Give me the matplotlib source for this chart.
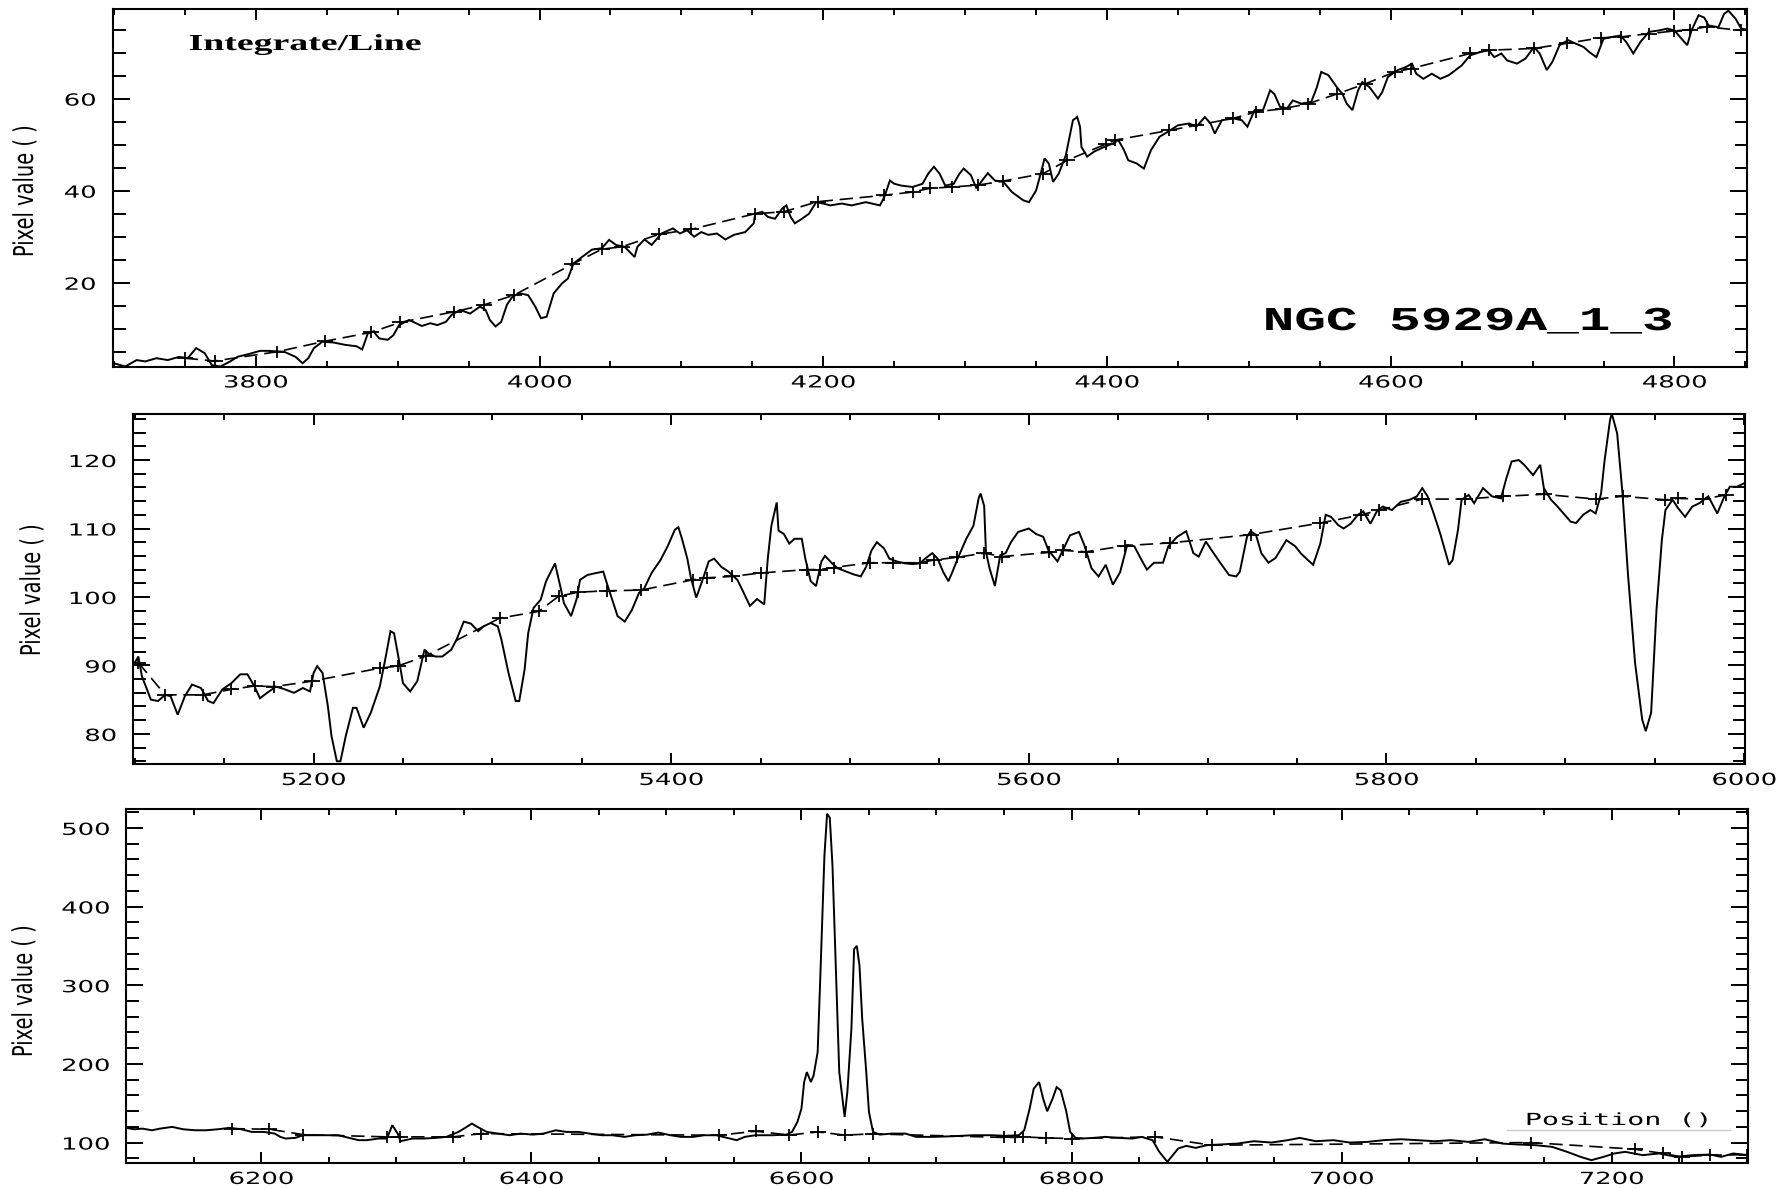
import numpy as np
import matplotlib
matplotlib.use('Agg')
import matplotlib.pyplot as plt
from matplotlib.path import Path
from matplotlib.lines import Line2D
from matplotlib.ticker import MultipleLocator
from matplotlib.transforms import Affine2D
from matplotlib.patheffects import AbstractPathEffect

W, H = 1782, 1190

# ---- blue part of the spectrum ----
wave_1 = [3700, 3708, 3716, 3722, 3730, 3738, 3746, 3752, 3758, 3764, 3769, 3775, 3782, 3787, 3795,
          3803, 3809, 3820, 3828, 3833, 3837, 3841, 3847, 3855, 3863, 3871, 3875, 3879, 3883, 3887,
          3893, 3897, 3901, 3908, 3913, 3917, 3923, 3928, 3934, 3938, 3944, 3951, 3958, 3962, 3965,
          3969, 3973, 3977, 3981, 3986, 3992, 3997, 4001, 4005, 4010, 4016, 4020, 4024, 4030, 4037,
          4044, 4049, 4054, 4060, 4067, 4069, 4074, 4079, 4086, 4094, 4099, 4104, 4109, 4114, 4119,
          4125, 4131, 4137, 4145, 4151, 4152, 4157, 4161, 4166, 4171, 4174, 4177, 4180, 4185, 4190,
          4195, 4200, 4205, 4213, 4220, 4230, 4240, 4243, 4247, 4250, 4255, 4263, 4270, 4274, 4278,
          4282, 4286, 4292, 4296, 4299, 4304, 4308, 4312, 4316, 4321, 4327, 4333, 4341, 4345, 4350,
          4353, 4356, 4359, 4362, 4366, 4371, 4376, 4379, 4381, 4382, 4386, 4391, 4398, 4404, 4408,
          4412, 4415, 4421, 4426, 4431, 4437, 4443, 4450, 4458, 4463, 4469, 4473, 4476, 4481, 4489,
          4495, 4499, 4504, 4510, 4515, 4518, 4522, 4527, 4531, 4537, 4544, 4548, 4551, 4556, 4562,
          4566, 4569, 4573, 4577, 4580, 4585, 4591, 4594, 4598, 4605, 4611, 4615, 4618, 4623, 4629,
          4635, 4641, 4650, 4656, 4663, 4669, 4673, 4678, 4682, 4689, 4695, 4701, 4705, 4710, 4714,
          4719, 4725, 4730, 4736, 4740, 4745, 4750, 4756, 4762, 4766, 4771, 4776, 4782, 4789, 4795,
          4800, 4805, 4809, 4812, 4817, 4821, 4824, 4831, 4835, 4838, 4843, 4847, 4851]
flux_1 = [2.5, 1.8, 3.2, 2.9, 3.6, 3.2, 3.9, 3.6, 5.8, 4.7, 2.1, 1.8, 2.9, 3.9, 4.5,
          5.2, 5.2, 5.0, 3.9, 2.5, 3.6, 5.8, 7.2, 7.0, 6.5, 6.2, 5.5, 9.0, 9.4, 7.9,
          7.6, 8.6, 10.8, 11.9, 11.2, 10.6, 11.2, 10.8, 11.5, 13.0, 14.1, 13.3, 14.8, 14.1, 11.9,
          10.5, 11.5, 15.2, 17.0, 17.7, 17.3, 14.8, 12.3, 12.6, 17.7, 19.9, 20.9, 24.2, 25.6, 27.2,
          27.5, 29.3, 28.2, 27.8, 25.6, 27.8, 29.4, 28.2, 30.7, 31.8, 30.7, 31.4, 30.0, 31.0, 30.4,
          30.7, 29.4, 30.4, 31.0, 32.9, 35.0, 35.4, 34.3, 33.9, 36.1, 36.8, 34.3, 32.9, 33.9, 35.0,
          37.5, 37.2, 36.8, 37.2, 36.8, 37.5, 36.8, 38.6, 42.2, 41.5, 41.1, 40.8, 41.5, 43.7, 45.2,
          43.7, 41.1, 41.5, 43.7, 44.8, 43.4, 40.5, 42.2, 43.8, 42.2, 41.9, 39.7, 37.9, 37.5, 40.0,
          43.4, 47.0, 45.9, 41.9, 43.7, 47.7, 55.3, 56.0, 53.9, 49.5, 47.4, 48.5, 49.5, 50.2, 51.0,
          48.8, 46.6, 45.9, 44.8, 48.8, 51.7, 52.8, 54.2, 54.6, 53.9, 56.0, 54.6, 52.4, 55.3, 55.7,
          55.3, 53.9, 57.5, 57.5, 61.8, 61.0, 58.2, 57.9, 59.6, 58.9, 59.3, 62.5, 65.8, 65.1, 62.5,
          61.0, 58.9, 57.5, 61.8, 63.6, 62.5, 60.0, 61.4, 64.7, 66.2, 66.9, 67.6, 65.4, 64.3, 65.4,
          64.3, 65.1, 67.2, 69.4, 70.1, 70.5, 69.0, 69.8, 68.3, 67.6, 68.7, 71.2, 69.8, 66.2, 68.0,
          71.6, 72.7, 72.0, 71.2, 70.1, 69.0, 73.0, 73.4, 73.7, 72.3, 69.8, 72.3, 74.5, 74.8, 75.2,
          74.8, 73.0, 71.6, 74.8, 78.1, 77.6, 75.9, 75.5, 78.4, 79.1, 77.4, 75.2, 75.0]
cont_wave_1 = [3750, 3771, 3815, 3849, 3881, 3902, 3940, 3961, 3982, 4023, 4044, 4058, 4084, 4107,
               4152, 4172, 4196, 4243, 4263, 4275, 4291, 4309, 4327, 4355, 4372, 4399, 4406, 4444,
               4463, 4489, 4505, 4524, 4542, 4562, 4582, 4603, 4614, 4656, 4669, 4701, 4724, 4748,
               4762, 4782, 4800, 4811, 4823, 4847]
cont_flux_1 = [3.6, 3.0, 5.0, 7.3, 9.2, 11.4, 13.7, 15.2, 17.3, 24.0, 27.3, 27.8, 30.5, 31.6,
               35.0, 35.4, 37.6, 39.0, 39.7, 40.5, 40.8, 41.2, 42.1, 43.7, 46.6, 50.1, 51.0, 53.1,
               54.2, 55.7, 57.1, 57.8, 58.9, 61.0, 63.2, 65.8, 66.5, 69.8, 70.5, 70.9, 72.0, 73.2,
               73.4, 74.1, 74.7, 75.0, 75.6, 74.8]

# ---- green / yellow part ----
wave_2 = [5100, 5102, 5104, 5109, 5113, 5117, 5120, 5124, 5128, 5132, 5137, 5141, 5144, 5149, 5154,
          5159, 5163, 5167, 5170, 5174, 5179, 5184, 5189, 5194, 5198, 5200, 5202, 5205, 5208, 5210,
          5213, 5215, 5218, 5222, 5224, 5228, 5232, 5237, 5240, 5243, 5245, 5248, 5250, 5254, 5258,
          5262, 5264, 5268, 5272, 5277, 5280, 5284, 5288, 5292, 5295, 5299, 5303, 5305, 5309, 5313,
          5315, 5318, 5320, 5323, 5327, 5330, 5335, 5338, 5340, 5344, 5347, 5349, 5353, 5358, 5362,
          5364, 5367, 5370, 5374, 5378, 5382, 5385, 5389, 5394, 5398, 5402, 5404, 5406, 5409, 5411,
          5414, 5417, 5421, 5424, 5428, 5432, 5437, 5440, 5444, 5448, 5452, 5454, 5456, 5459, 5460,
          5463, 5466, 5469, 5473, 5475, 5478, 5481, 5484, 5486, 5490, 5493, 5498, 5502, 5506, 5509,
          5512, 5515, 5519, 5522, 5526, 5531, 5535, 5539, 5542, 5546, 5549, 5552, 5555, 5557, 5561,
          5565, 5569, 5572, 5573, 5575, 5576, 5578, 5581, 5584, 5587, 5590, 5594, 5600, 5604, 5608,
          5611, 5616, 5619, 5623, 5628, 5631, 5635, 5639, 5643, 5647, 5651, 5655, 5659, 5662, 5666,
          5670, 5675, 5678, 5683, 5688, 5692, 5695, 5699, 5702, 5707, 5712, 5716, 5718, 5722, 5724,
          5727, 5730, 5734, 5738, 5744, 5749, 5752, 5756, 5759, 5763, 5766, 5769, 5773, 5776, 5780,
          5784, 5787, 5791, 5795, 5798, 5803, 5808, 5813, 5817, 5820, 5823, 5826, 5830, 5835, 5837,
          5840, 5842, 5846, 5849, 5854, 5859, 5864, 5867, 5870, 5874, 5877, 5882, 5886, 5888, 5892,
          5895, 5899, 5903, 5906, 5910, 5914, 5917, 5920, 5922, 5925, 5926, 5929, 5932, 5935, 5939,
          5943, 5945, 5948, 5951, 5954, 5956, 5960, 5963, 5967, 5971, 5975, 5980, 5985, 5989, 5992,
          5996, 6000]
flux_2 = [90.4, 91.3, 88.4, 85.0, 84.8, 85.7, 85.5, 82.8, 85.5, 87.2, 86.7, 84.8, 84.5, 86.5, 87.4,
          88.7, 88.7, 86.9, 85.2, 86.0, 86.9, 86.5, 86.0, 86.7, 86.2, 88.9, 89.9, 88.9, 84.0, 79.7,
          76.0, 76.0, 79.7, 83.8, 83.8, 80.9, 83.1, 86.9, 90.8, 95.0, 94.7, 90.4, 87.4, 86.2, 87.7,
          92.3, 91.8, 91.3, 91.3, 92.3, 93.8, 96.4, 96.1, 95.0, 95.7, 96.2, 95.7, 93.8, 88.9, 84.8,
          84.8, 89.4, 94.7, 98.4, 99.6, 102.3, 104.9, 101.5, 99.1, 97.2, 99.6, 102.5, 103.2, 103.5, 103.7,
          102.0, 99.6, 97.2, 96.4, 98.1, 100.6, 101.3, 103.5, 105.4, 107.4, 109.8, 110.2, 108.5, 105.6, 102.8,
          99.9, 102.1, 105.2, 105.6, 104.4, 103.7, 102.5, 100.9, 98.7, 99.7, 98.9, 105.6, 110.4, 113.8, 109.7,
          109.2, 107.8, 108.5, 108.5, 105.6, 102.3, 101.6, 105.2, 106.0, 104.9, 104.2, 103.7, 103.3, 103.0, 104.4,
          106.8, 108.0, 107.1, 105.6, 105.2, 104.9, 104.8, 104.9, 105.6, 106.4, 105.6, 103.7, 102.3, 103.5, 106.1,
          108.5, 110.4, 114.5, 115.1, 113.3, 106.6, 104.2, 101.6, 106.1, 106.4, 108.0, 109.5, 110.0, 109.2, 108.8,
          106.8, 105.2, 106.8, 109.0, 109.5, 107.6, 104.2, 103.0, 104.7, 101.8, 103.6, 107.6, 107.4, 105.9, 104.0,
          105.0, 105.0, 107.4, 108.8, 109.6, 106.4, 105.9, 108.1, 106.9, 105.0, 103.2, 103.0, 103.7, 108.8, 109.6,
          109.1, 106.4, 105.0, 105.7, 108.3, 107.4, 106.4, 105.4, 104.7, 107.8, 112.0, 111.7, 110.5, 110.0, 110.7,
          112.0, 112.5, 110.7, 112.7, 113.2, 112.7, 113.9, 114.2, 114.7, 115.9, 114.7, 112.5, 109.3, 104.7, 105.4,
          109.8, 114.2, 114.9, 113.7, 115.9, 114.7, 114.4, 117.3, 119.8, 120.0, 119.3, 117.8, 119.3, 115.9, 114.2,
          113.4, 112.2, 111.0, 110.8, 112.0, 112.7, 112.2, 115.1, 120.0, 125.8, 126.8, 123.9, 115.1, 103.5, 90.4,
          82.1, 80.4, 83.1, 98.1, 108.3, 112.7, 114.2, 113.0, 111.7, 113.2, 113.7, 114.7, 112.2, 114.7, 116.1,
          116.1, 116.6]
cont_wave_2 = [5102, 5117, 5138, 5154, 5167, 5178, 5199, 5237, 5247, 5263, 5304, 5326, 5337, 5348,
               5364, 5383, 5412, 5420, 5434, 5450, 5476, 5483, 5491, 5511, 5524, 5539, 5547, 5560,
               5575, 5585, 5611, 5619, 5632, 5654, 5679, 5724, 5763, 5786, 5796, 5820, 5844, 5865,
               5888, 5917, 5932, 5956, 5963, 5977, 5990]
cont_flux_2 = [90.4, 85.7, 85.7, 86.5, 87.0, 86.9, 87.7, 89.6, 89.9, 91.4, 96.9, 97.9, 100.1, 100.7,
               100.9, 101.0, 102.5, 102.8, 103.0, 103.5, 104.0, 104.0, 104.3, 105.0, 105.0, 105.0, 105.4, 105.8,
               106.4, 105.9, 106.5, 106.8, 106.6, 107.5, 107.9, 109.1, 110.8, 112.0, 112.7, 114.3, 114.3, 114.7,
               115.0, 114.3, 114.7, 114.2, 114.4, 114.3, 114.9]

# ---- red part, H-alpha / [NII] / [SII] ----
wave_3 = [6100, 6106, 6112, 6119, 6125, 6134, 6142, 6151, 6159, 6168, 6176, 6185, 6193, 6202, 6210,
          6214, 6218, 6225, 6231, 6240, 6248, 6257, 6265, 6272, 6278, 6287, 6293, 6297, 6301, 6303,
          6312, 6320, 6329, 6337, 6346, 6352, 6356, 6360, 6367, 6375, 6384, 6392, 6401, 6409, 6418,
          6426, 6435, 6443, 6452, 6460, 6469, 6477, 6486, 6494, 6503, 6511, 6520, 6528, 6537, 6545,
          6552, 6558, 6566, 6579, 6589, 6593, 6597, 6600, 6602, 6604, 6607, 6609, 6612, 6614, 6617,
          6619, 6621, 6623, 6625, 6628, 6632, 6634, 6637, 6639, 6641, 6643, 6645, 6648, 6650, 6653,
          6658, 6667, 6677, 6685, 6697, 6712, 6727, 6741, 6751, 6761, 6765, 6769, 6772, 6776, 6779,
          6782, 6786, 6789, 6792, 6796, 6799, 6803, 6808, 6816, 6825, 6835, 6845, 6852, 6860, 6865,
          6871, 6875, 6879, 6885, 6892, 6900, 6910, 6923, 6935, 6948, 6960, 6969, 6981, 6994, 7006,
          7019, 7031, 7044, 7056, 7069, 7081, 7094, 7106, 7119, 7131, 7144, 7156, 7167, 7177, 7185,
          7194, 7202, 7210, 7223, 7235, 7248, 7260, 7273, 7281, 7290, 7301]
flux_3 = [118.6, 116.9, 117.7, 115.6, 117.7, 119.9, 116.9, 115.6, 115.6, 116.9, 118.6, 116.9, 113.5, 113.5, 111.4,
          107.2, 105.1, 105.9, 109.3, 109.3, 109.3, 109.3, 105.9, 103.0, 103.0, 105.1, 105.1, 122.0, 111.4, 101.7,
          105.1, 105.1, 105.9, 107.2, 113.5, 119.9, 124.1, 119.9, 113.5, 111.4, 109.3, 111.4, 110.1, 111.4, 115.6,
          113.5, 113.5, 111.4, 109.3, 109.3, 107.2, 109.3, 110.1, 112.7, 109.3, 107.2, 107.2, 109.3, 109.3, 105.9,
          103.0, 107.2, 109.3, 109.3, 110.1, 113.5, 126.2, 143.1, 176.9, 189.6, 176.9, 185.3, 214.9, 312.0, 464.1,
          518.0, 512.7, 451.4, 345.8, 189.6, 132.5, 164.2, 244.5, 345.8, 350.1, 324.7, 257.1, 189.6, 138.9, 113.5,
          110.1, 111.4, 111.4, 107.2, 107.2, 108.0, 109.3, 109.3, 108.5, 109.3, 115.6, 143.1, 168.4, 176.9, 155.8,
          139.7, 155.8, 170.5, 166.3, 140.5, 113.5, 105.9, 105.1, 105.9, 107.2, 105.9, 105.1, 107.2, 103.0, 88.2,
          75.5, 84.0, 92.4, 95.8, 93.2, 96.6, 97.5, 98.7, 101.7, 100.0, 103.0, 105.9, 101.7, 103.0, 100.0,
          100.8, 103.0, 104.2, 103.0, 101.7, 103.0, 100.8, 104.2, 98.7, 97.5, 96.6, 94.5, 88.2, 81.8, 77.6,
          81.8, 86.1, 88.2, 84.0, 86.1, 81.8, 84.0, 84.8, 81.8, 86.1, 84.0]
cont_wave_3 = [6178, 6206, 6231, 6293, 6303, 6342, 6363, 6539, 6566, 6591, 6612, 6632, 6653, 6750,
               6758, 6764, 6781, 6800, 6862, 6904, 7140, 7217, 7238, 7252, 7273, 7300]
cont_flux_3 = [117.7, 116.9, 110.1, 107.2, 107.2, 107.2, 111.4, 109.3, 114.4, 109.5, 113.5, 109.5, 111.0, 106.5,
               106.5, 107.2, 105.9, 105.1, 107.2, 96.6, 100.0, 91.6, 86.1, 81.8, 84.0, 84.5]


class Stretch(AbstractPathEffect):
    """Draw text glyphs widened (sx) or thickened (sy) about an anchor."""

    def __init__(self, sx=1.0, sy=1.0, anchor='center'):
        super().__init__()
        self.sx, self.sy, self.anchor = sx, sy, anchor

    def draw_path(self, renderer, gc, tpath, affine, rgbFace=None):
        ext = tpath.get_extents()
        if self.anchor == 'left':
            cx = ext.x0
        elif self.anchor == 'right':
            cx = ext.x1
        else:
            cx = 0.5 * (ext.x0 + ext.x1)
        cy = 0.5 * (ext.y0 + ext.y1)
        shape = Affine2D().translate(-cx, -cy).scale(self.sx, self.sy).translate(cx, cy)
        renderer.draw_path(gc, tpath, shape + affine, rgbFace)


def rect(l, t, r, b):
    return [l / W, 1 - b / H, (r - l) / W, (b - t) / H]


# wide plus sign used for the continuum knots
plus = Path([(-0.65, 0), (0.65, 0), (0, -0.5), (0, 0.5)],
            [Path.MOVETO, Path.LINETO, Path.MOVETO, Path.LINETO])

SX = 1.55


def panel(ax, wave, flux, cw, cf, xlim, ylim, ystep, yminor):
    ax.plot(wave, flux, color='black', lw=1.4, solid_joinstyle='miter')
    ax.plot(cw, cf, color='black', lw=1.2, ls=(0, (8, 4)))
    ax.plot(cw, cf, ls='none', marker=plus, ms=12, mew=1.3, color='black')
    ax.set_xlim(*xlim)
    ax.set_ylim(*ylim)
    ax.set_xticks([t for t in range(3000, 8000, 200) if xlim[0] <= t <= xlim[1]])
    ax.set_yticks([t for t in np.arange(0, 600, ystep) if ylim[0] <= t <= ylim[1]])
    ax.xaxis.set_minor_locator(MultipleLocator(50))
    ax.yaxis.set_minor_locator(MultipleLocator(yminor))
    ax.tick_params(which='both', direction='in', top=True, right=True, width=1.4,
                   labelsize=12, colors='black')
    ax.tick_params(axis='x', which='major', length=8, pad=5)
    ax.tick_params(axis='x', which='minor', length=4.5)
    ax.tick_params(axis='y', which='major', length=12, pad=12)
    ax.tick_params(axis='y', which='minor', length=9)
    for s in ax.spines.values():
        s.set_linewidth(1.5)
    for lab in ax.get_xticklabels():
        lab.set_path_effects([Stretch(SX)])
    for lab in ax.get_yticklabels():
        lab.set_path_effects([Stretch(SX, anchor='right')])


fig = plt.figure(figsize=(W / 100, H / 100), dpi=100)
fig.patch.set_facecolor('white')

ax1 = fig.add_axes(rect(112.5, 9.3, 1746.8, 366.5))
ax2 = fig.add_axes(rect(133, 413.5, 1745, 764))
ax3 = fig.add_axes(rect(126.3, 809, 1748, 1163))

panel(ax1, wave_1, flux_1, cont_wave_1, cont_flux_1, (3699, 4851), (1.8, 79.4), 20, 5)
panel(ax2, wave_2, flux_2, cont_wave_2, cont_flux_2, (5099, 6000.5), (75.6, 126.8), 10, 2)
panel(ax3, wave_3, flux_3, cont_wave_3, cont_flux_3, (6100, 7301), (74, 524), 100, 20)

# y labels
for x, y in [(25, 191), (32, 590), (24, 991)]:
    fig.text(x / W, 1 - y / H, 'Pixel value ( )', rotation=90, ha='center', va='center',
             fontsize=14, family='DejaVu Sans', path_effects=[Stretch(1.0, 1.4)])

fig.text(189 / W, 1 - 50 / H, 'Integrate/Line', ha='left', va='baseline',
         fontsize=16.5, family='Liberation Serif', weight='bold',
         path_effects=[Stretch(1.65, anchor='left')])
fig.text(1264 / W, 1 - 330 / H, 'NGC 5929A_1_3', ha='left', va='baseline',
         fontsize=24, family='Liberation Mono', weight='bold',
         path_effects=[Stretch(1.58, anchor='left')])
fig.text(1526 / W, 1 - 1125 / H, 'Position ()', ha='left', va='baseline',
         fontsize=12, family='DejaVu Sans Mono',
         path_effects=[Stretch(1.7, anchor='left')])
fig.add_artist(Line2D([1507 / W, 1730 / W], [1 - 1129.5 / H, 1 - 1129.5 / H],
                      transform=fig.transFigure, color='#c8c8c8', lw=1))

fig.savefig('out.png', dpi=100, facecolor='white')
